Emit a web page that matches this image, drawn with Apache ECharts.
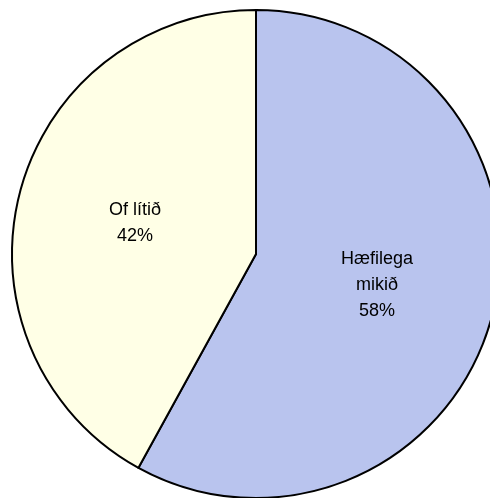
<!DOCTYPE html>
<html><head><meta charset="utf-8">
<script src="https://cdn.jsdelivr.net/npm/echarts@6/dist/echarts.min.js"></script>
<style>html,body{margin:0;padding:0;background:#fff}#c{width:490px;height:498px}</style>
</head><body><div id="c"></div>
<script>
const categories = ["Hæfilega\nmikið", "Of lítið"];
const values = [58, 42];
const colors = ["#B9C4EE", "#FFFFE6"];
const chart = echarts.init(document.getElementById('c'), null, {renderer:'canvas'});
chart.setOption({
  animation:false,
  series:[{
    type:'pie',
    center:[256,254],
    radius:[0,244],
    startAngle:90,
    clockwise:true,
    data: categories.map((n,i)=>({name:n,value:values[i],itemStyle:{color:colors[i]}})),
    itemStyle:{borderColor:'#000',borderWidth:2},
    label:{show:true,position:'inside',formatter:p=>p.name+'\n'+Math.round(p.percent)+'%',
      fontFamily:'"Liberation Sans", Arial, sans-serif',fontSize:18,lineHeight:26,color:'#000',align:'center'},
    labelLine:{show:false},
    emphasis:{disabled:true}
  }]
});
</script></body></html>
